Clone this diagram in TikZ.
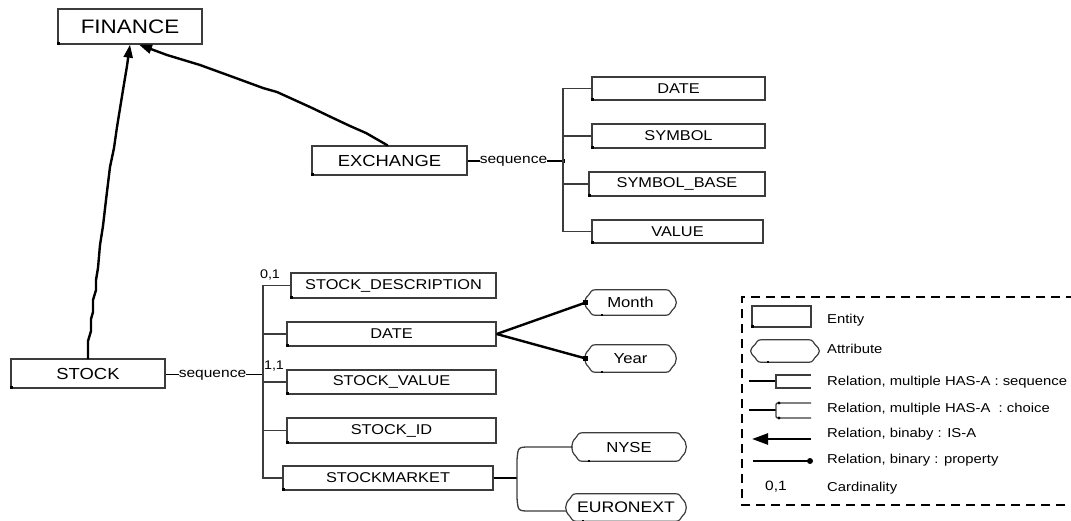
\documentclass[tikz,border=0pt]{standalone}
\usepackage{fontspec}
\usetikzlibrary{arrows.meta,calc}
\newfontfamily\lab{Liberation Sans}[FakeStretch=1.15]
\definecolor{frame}{HTML}{3C3C3C}
\newcommand\fsz[1]{\lab\fontsize{#1}{#1}\selectfont}
% attribute outline: a box with scroll-like curved ends
\newcommand\attrframe[1]{%
  \draw[attrline] let \p1=(#1.north west), \p2=(#1.south east), \p3=(#1.west) in
    (\x1+9pt,\y1) -- (\x2-9pt,\y1)
    .. controls (\x2-5pt,\y1) and (\x2-5pt,\y1-3pt) .. (\x2-3pt,\y1-5pt)
    .. controls (\x2+2.5pt,\y1-10pt) and (\x2+2.5pt,\y2+10pt) .. (\x2-3pt,\y2+5pt)
    .. controls (\x2-5pt,\y2+3pt) and (\x2-5pt,\y2) .. (\x2-9pt,\y2)
    -- (\x1+9pt,\y2)
    .. controls (\x1+5pt,\y2) and (\x1+5pt,\y2+3pt) .. (\x1+3pt,\y2+5pt)
    .. controls (\x1-2.5pt,\y2+10pt) and (\x1-2.5pt,\y1-10pt) .. (\x1+3pt,\y1-5pt)
    .. controls (\x1+5pt,\y1-3pt) and (\x1+5pt,\y1) .. cycle;
  \fill let \p1=(#1.south west) in (\x1+15pt,\y1-1pt) rectangle ++(2.5pt,2.5pt);
}
\begin{document}
\begin{tikzpicture}[x=1pt,y=-1pt,
  entity/.style={draw=frame,line width=1.3pt,inner sep=0pt,minimum height=24pt,font=\fsz{14.2}},
  attr/.style={inner sep=0pt,font=\fsz{14.5}},
  attrline/.style={draw=frame,line width=1.2pt},
  isa/.style={line width=2.4pt,line join=round,line cap=round,-{Triangle[length=13pt,width=9pt]}},
  prop/.style={line width=2.4pt},
  bus/.style={draw=frame,line width=1.3pt},
  thinline/.style={line width=1.2pt},
  seqlbl/.style={inner sep=0pt,font=\fsz{13.5}},
  card/.style={inner sep=0pt,font=\fsz{12.5}},
  legtxt/.style={inner sep=0pt,anchor=west,font=\fsz{12.9}},
  legbox/.style={line width=2.2pt,dash pattern=on 9pt off 6pt},
]
\useasboundingbox (0,0) rectangle (1071,520);

% ---- entities ----
\node[entity,minimum width=144pt,minimum height=35pt,font=\fsz{19.5}] (finance) at (130,26.5) {FINANCE};
\node[entity,minimum width=155pt,minimum height=29pt,font=\fsz{16}] (exchange) at (389.5,160.5) {EXCHANGE};
\node[entity,minimum width=154pt,minimum height=29pt,font=\fsz{16}] (stock) at (88,373.5) {STOCK};

\node[entity,minimum width=173pt,minimum height=23pt] (exdate) at (678.5,88.5) {DATE};
\node[entity,minimum width=173pt] (exsym) at (678.5,136) {SYMBOL};
\node[entity,minimum width=176pt] (exbase) at (677,184) {SYMBOL\_BASE};
\node[entity,minimum width=171pt,minimum height=23pt] (exval) at (677.5,231.5) {VALUE};

\node[entity,minimum width=205pt,minimum height=25pt] (desc) at (393.5,285.5) {STOCK\_DESCRIPTION};
\node[entity,minimum width=209pt] (date) at (391.5,334) {DATE};
\node[entity,minimum width=209pt] (svalue) at (391.5,382) {STOCK\_VALUE};
\node[entity,minimum width=209pt,minimum height=25pt] (sid) at (391.5,430.5) {STOCK\_ID};
\node[entity,minimum width=210pt] (market) at (388,478) {STOCKMARKET};

\foreach \b in {finance,exchange,stock,exdate,exsym,exbase,exval,desc,date,svalue,sid,market}
  {\fill (\b.south west) rectangle ++(2.5pt,2.5pt);}

% ---- attributes ----
\node[attr,minimum width=89pt,minimum height=25pt] (month) at (630.5,302.5) {Month};
\node[attr,minimum width=89pt,minimum height=27pt] (year) at (630.5,358.5) {Year};
\node[attr,minimum width=112pt,minimum height=28pt] (nyse) at (629,447) {NYSE};
\node[attr,minimum width=118pt,minimum height=27pt,font=\fsz{15.3}] (euronext) at (626,507.5) {EURONEXT};
\foreach \a in {month,year,nyse,euronext} {\attrframe{\a}}

% ---- IS-A relations ----
\draw[isa] (stock.north) -- (88,341) -- (91,331) -- (91,319) -- (93,312) -- (93,300)
  -- (96,290) -- (96,280) -- (98,268) -- (100,245) -- (103,226) -- (106,200)
  -- (110,167) -- (114,148) -- (117,127) -- (123,90) -- (127,66) -- (finance.south);
\draw[isa] ([xshift=-2pt]exchange.north) -- (366,133) -- (350,126) -- (333,118)
  -- (310,107) -- (277,92) -- (263,88) -- (233,77) -- (200,65) -- (167,55)
  -- ([xshift=9pt]finance.south);

% ---- EXCHANGE sequence ----
\node[seqlbl] (exseq) at (513.5,161.5) {sequence};
\coordinate (exbus) at (563,161);
\draw[thinline] (exchange.east |- exbus) -- (exseq.west |- exbus);
\draw[thinline] (exseq.east |- exbus) -- (exbus);
\fill (exbus) ++(-1.5pt,-2pt) rectangle ++(3pt,4pt);
\draw[bus] (exdate.west) -| (exval.west -| exbus) -- (exval.west);
\draw[bus] (exsym.west) -- (exsym.west -| exbus);
\draw[bus] (exbase.west) -- (exbase.west -| exbus);

% ---- STOCK sequence ----
\node[seqlbl] (stseq) at (212.5,375) {sequence};
\coordinate (stbus) at (263,374.5);
\draw[thinline] (stock.east |- stbus) -- (stseq.west |- stbus);
\draw[thinline] (stseq.east |- stbus) -- (stbus);
\draw[bus] (desc.west) -| (market.west -| stbus) -- (market.west);
\foreach \b in {date,svalue,sid} {\draw[bus] (\b.west) -- (\b.west -| stbus);}
\node[card] (c01) at (270,275) {0,1};
\node[card] (c11) at (274,365.5) {1,1};

% ---- DATE properties ----
\draw[prop] (date.east) -- (month.west);
\draw[prop] (date.east) -- (year.west);
\fill (month.west) ++(-3pt,-2.5pt) rectangle ++(5pt,5pt);
\fill (year.west) ++(-3pt,-2.5pt) rectangle ++(5pt,5pt);

% ---- STOCKMARKET choice ----
\coordinate (chj) at (517,478);
\draw[prop] (market.east) -- (chj);
\draw[bus] (nyse.west) -- (530,447) .. controls (518,447) .. (517,460)
  -- (517,498) .. controls (518,511) .. (530,511) -- ([yshift=-3.5pt]euronext.west);

% ---- legend (its frame runs on past the right edge) ----
\draw[legbox] (1075,297) -- (742,297) -- (742,505) -- (1075,505);
\node[entity,minimum width=59pt,minimum height=21pt] (lent) at (781.5,316.5) {};
\fill (lent.south west) rectangle ++(2.5pt,2.5pt);
\node[attr,minimum width=66pt,minimum height=22pt] (latt) at (785,351) {};
\attrframe{latt}
\node[legtxt] (tent) at (827,320) {Entity};
\node[legtxt] (tatt) at (827,349) {Attribute};
\node[legtxt] (tseq) at (827,382) {Relation, multiple HAS-A : sequence};
\node[legtxt] (tcho) at (827,409) {Relation, multiple HAS-A \ : choice};
\node[legtxt] (tisa) at (827,434) {Relation, binaby : IS-A};
\node[legtxt] (tpro) at (827,460) {Relation, binary : property};
\node[legtxt] (tcar) at (827,488) {Cardinality};
\node[card,font=\fsz{13.5}] (lcar) at (776,487) {0,1};

% sequence symbol
\coordinate (lsq) at (776,381);
\draw[thinline] (749,381) -- (lsq);
\draw[bus] (811,375) -- (776,375) -- (776,388) -- (811,388);
% choice symbol
\coordinate (lch) at (776,410);
\draw[thinline] (749,410) -- (lch);
\draw[bus] (811,403) -- (780,403) .. controls (776,403) .. (776,407) -- (776,414)
  .. controls (776,418) .. (780,418) -- (811,418);
\fill (779,403) circle (1.6pt) (779,418) circle (1.6pt);
% IS-A symbol
\coordinate (lisa) at (752,439);
\draw[line width=2.4pt,-{Triangle[length=16pt,width=11pt]}] (811,439) -- (lisa);
% property symbol
\coordinate (lpro) at (810,461);
\draw[prop] (753,461) -- (lpro);
\fill (lpro) circle (3pt);
\end{tikzpicture}
\end{document}
